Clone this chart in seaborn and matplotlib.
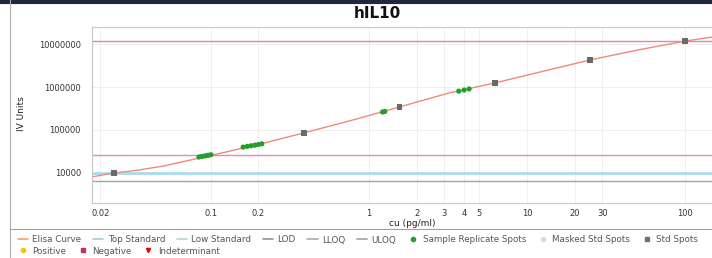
import matplotlib
matplotlib.use("Agg")
import matplotlib.pyplot as plt
import seaborn as sns
import pandas as pd
from matplotlib.lines import Line2D

# elisa curve (conc in pg/ml, signal in IV units)
curve_x = [0.0177, 0.0244, 0.035, 0.05, 0.0977, 0.2, 0.39, 0.8, 1.56, 3.2, 6.25, 12.5, 25, 50, 100, 148]
curve_y = [8100, 10000, 11700, 14500, 25000, 46000, 86000, 173000, 343000, 725000, 1240000,
           2300000, 4250000, 7250000, 11700000, 14500000]

# standard spots
std_x = [0.0244, 0.39, 1.56, 6.25, 25, 100]
std_y = [10000, 86000, 343000, 1240000, 4250000, 11700000]

# sample replicate spots
sample_x = [0.084, 0.088, 0.092, 0.096, 0.1,
            0.16, 0.17, 0.18, 0.19, 0.2, 0.21,
            1.22, 1.26,
            3.7, 4.0, 4.3]
sample_y = [23500, 24300, 25000, 25800, 26500,
            40000, 41500, 43000, 44500, 46000, 47500,
            262000, 270000,
            800000, 850000, 900000]

# horizontal reference levels
top_standard = 11700000
lloq = 26000
low_standard = 10000
lod = 6500

x_ticks = [0.02, 0.1, 0.2, 1, 2, 3, 4, 5, 10, 20, 30, 100]
x_tick_labels = ["0.02", "0.1", "0.2", "1", "2", "3", "4", "5", "10", "20", "30", "100"]
y_ticks = [10000, 100000, 1000000, 10000000]
y_tick_labels = ["10000", "100000", "1000000", "10000000"]

curve_df = pd.DataFrame({"conc": curve_x, "iv": curve_y})
std_df = pd.DataFrame({"conc": std_x, "iv": std_y})
sample_df = pd.DataFrame({"conc": sample_x, "iv": sample_y})

sns.set_theme(style="whitegrid")
plt.rcParams["font.family"] = ["DejaVu Sans"]

fig = plt.figure(figsize=(7.12, 2.58), dpi=100)
ax = fig.add_axes([92 / 712, 55 / 258, 620 / 712, 176 / 258])

ax.axhline(top_standard, color="#d98aa6", lw=1.0)
ax.axhline(lloq, color="#e08cb4", lw=1.0)
ax.axhline(low_standard, color="#a8dcec", lw=2.0)
ax.axhline(lod, color="#8fae9e", lw=1.0)

sns.lineplot(data=curve_df, x="conc", y="iv", ax=ax, color="#f08a78", lw=1.0)
sns.scatterplot(data=sample_df, x="conc", y="iv", ax=ax, color="#22a02a", s=14,
                edgecolor="none", zorder=4)
sns.scatterplot(data=std_df, x="conc", y="iv", ax=ax, color="#6a6a6a", s=18,
                marker="s", edgecolor="none", zorder=5)

ax.set_xscale("log")
ax.set_yscale("log")
ax.set_xlim(0.0177, 148)
ax.set_ylim(2000, 2.49e7)
ax.set_xticks(x_ticks)
ax.set_xticklabels(x_tick_labels)
ax.set_yticks(y_ticks)
ax.set_yticklabels(y_tick_labels)
ax.minorticks_off()
ax.tick_params(axis="both", labelsize=6, colors="#333333", length=0)
ax.tick_params(axis="x", pad=4)
ax.tick_params(axis="y", pad=8)
ax.grid(True, color="#ececec", lw=0.6)
for side in ["left", "bottom", "top", "right"]:
    ax.spines[side].set_color("#c8c8c8")
    ax.spines[side].set_linewidth(0.8)
ax.spines["right"].set_visible(False)
ax.set_xlabel("")
ax.set_ylabel("")

fig.text(377 / 712, 1 - 13 / 258, "hIL10", ha="center", va="center",
         fontsize=11, fontweight="bold", color="#111111")
fig.text(412 / 712, 1 - 224 / 258, "cu (pg/ml)", ha="center", va="center",
         fontsize=6.5, color="#222222")
fig.text(22 / 712, 1 - 114 / 258, "IV Units", ha="center", va="center",
         rotation=90, fontsize=6.5, color="#222222")

# panel frame
fig.add_artist(Line2D([0, 1], [1 - 1.5 / 258, 1 - 1.5 / 258], color="#1e2a3a", lw=3))
fig.add_artist(Line2D([10 / 712, 10 / 712], [0, 1], color="#b0b0b0", lw=0.8))
fig.add_artist(Line2D([10 / 712, 1], [1 - 229 / 258, 1 - 229 / 258], color="#a0a0a0", lw=0.8))

row1 = [
    Line2D([], [], color="#f5a070", lw=1.2, label="Elisa Curve"),
    Line2D([], [], color="#a8c8d8", lw=1.2, label="Top Standard"),
    Line2D([], [], color="#a8dcd0", lw=1.2, label="Low Standard"),
    Line2D([], [], color="#909890", lw=1.2, label="LOD"),
    Line2D([], [], color="#b0a8b0", lw=1.2, label="LLOQ"),
    Line2D([], [], color="#a0a0a8", lw=1.2, label="ULOQ"),
    Line2D([], [], color="#22a02a", marker="o", ms=3, lw=0, label="Sample Replicate Spots"),
    Line2D([], [], color="#dddddd", marker="o", ms=3, lw=0, label="Masked Std Spots"),
    Line2D([], [], color="#707070", marker="s", ms=3, lw=0, label="Std Spots"),
]
row2 = [
    Line2D([], [], color="#f0c020", marker="o", ms=3, lw=0, label="Positive"),
    Line2D([], [], color="#c8305a", marker="s", ms=3, lw=0, label="Negative"),
    Line2D([], [], color="#d01010", marker="v", ms=3, lw=0, label="Indeterminant"),
]
leg_kw = dict(frameon=False, fontsize=6.3, handlelength=1.2, handletextpad=0.5,
              columnspacing=1.3, borderaxespad=0, labelcolor="#555555")
fig.legend(handles=row1, ncol=9, loc="center left",
           bbox_to_anchor=(14 / 712, 1 - 240 / 258), **leg_kw)
fig.legend(handles=row2, ncol=3, loc="center left",
           bbox_to_anchor=(14 / 712, 1 - 251 / 258), **leg_kw)

fig.savefig("out.png", dpi=100)
